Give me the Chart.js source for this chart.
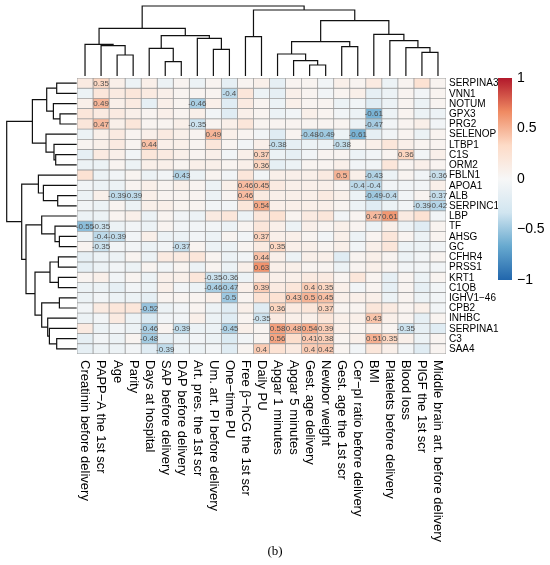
<!DOCTYPE html>
<html lang="en">
<head>
<meta charset="UTF-8">
<title>Correlation heatmap</title>
<script src="https://cdn.jsdelivr.net/npm/chart.js"></script>
<style>
  html, body { margin: 0; padding: 0; background: #fff; }
  #wrap { position: relative; width: 550px; height: 565px; }
  #wrap canvas { position: absolute; left: 0; top: 0; }
</style>
</head>
<body>
<div id="wrap">
  <canvas id="heat" width="550" height="565"></canvas>
  <canvas id="colTree" width="550" height="565"></canvas>
  <canvas id="rowTree" width="550" height="565"></canvas>
  <canvas id="scaleBar" width="550" height="565"></canvas>
</div>

<script>
  // column order as in the clustered heatmap
  const colLabels = [
    'Creatinin before delivery', 'PAPP\u2212A the 1st scr', 'Age', 'Parity',
    'Days at hospital', 'SAP before delivery', 'DAP before delivery',
    'Art. pres. the 1st scr', 'Um. art. PI before delivery', 'One\u2212time PU',
    'Free \u03b2\u2212hCG the 1st scr', 'Daily PU', 'Apgar 1 minutes', 'Apgar 5 minutes',
    'Gest. age delivery', 'Newbor weight', 'Gest. age the 1st scr',
    'Cer\u2212pl ratio before delivery', 'BMI', 'Platelets before delivery',
    'Blood loss', 'PlGF the 1st scr', 'Middle brain art. before delivery'
  ];

  const rowLabels = [
    'SERPINA3', 'VNN1', 'NOTUM', 'GPX3', 'PRG2', 'SELENOP', 'LTBP1', 'C1S', 'ORM2',
    'FBLN1', 'APOA1', 'ALB', 'SERPINC1', 'LBP', 'TF', 'AHSG', 'GC', 'CFHR4', 'PRSS1',
    'KRT1', 'C1QB', 'IGHV1\u221246', 'CPB2', 'INHBC', 'SERPINA1', 'C3', 'SAA4'
  ];

  // correlation values, one line per protein (columns as colLabels)
  const corrMatrix = [
    [0.15, 0.35, 0.1, -0.1, 0.1, -0.1, 0.05, -0.1, 0.05, -0.15, 0.05, 0.1, -0.15, 0.05, 0.05, -0.05, 0.1, 0.05, 0.15, -0.1, 0.05, 0.25, 0.05],
    [-0.1, 0.2, 0.15, 0.2, 0.15, 0.1, 0.05, 0.05, 0.05, -0.4, 0.2, -0.1, -0.15, 0.1, 0.05, -0.05, 0.05, 0.1, -0.15, -0.1, 0.05, -0.05, 0.05],
    [0.1, 0.49, 0.1, 0.15, -0.15, 0.1, 0.05, -0.46, 0.1, -0.2, 0.15, 0.05, -0.1, 0.1, 0.05, 0.05, -0.1, -0.05, -0.2, -0.1, 0.05, -0.1, 0.05],
    [0.2, 0.15, 0.15, 0.1, 0.05, 0.1, 0.05, 0.1, -0.05, -0.2, 0.1, 0.05, -0.1, -0.05, 0.1, 0.05, -0.05, -0.1, -0.61, -0.1, 0.05, -0.1, -0.1],
    [0.2, 0.47, 0.1, 0.2, 0.05, 0.05, 0.1, -0.35, 0.05, 0.1, 0.2, 0.05, 0.05, 0.05, 0.05, 0.05, 0.05, -0.1, -0.47, -0.05, 0.05, 0.1, -0.05],
    [-0.1, 0.1, 0.15, 0.05, 0.1, 0.15, 0.1, 0.05, 0.49, 0.1, 0.05, -0.05, -0.2, 0.05, -0.48, -0.49, -0.1, -0.61, -0.15, -0.05, 0.05, -0.1, 0.05],
    [0.05, 0.1, 0.15, 0.05, 0.44, 0.1, 0.1, 0.05, 0.2, 0.05, -0.05, 0.1, -0.38, -0.15, -0.1, -0.1, -0.38, 0.05, 0.1, 0.2, 0.1, 0.05, 0.05],
    [-0.15, 0.15, 0.1, -0.05, 0.2, 0.15, 0.1, 0.05, 0.1, -0.05, 0.1, 0.37, -0.1, -0.15, -0.05, 0.05, 0.05, -0.1, -0.05, 0.05, 0.36, -0.05, 0.1],
    [-0.1, -0.1, 0.05, -0.1, 0.1, 0.1, 0.05, 0.1, 0.1, 0.05, 0.1, 0.36, -0.15, -0.1, 0.05, 0.05, 0.1, -0.05, -0.05, 0.2, 0.05, 0.1, 0.05],
    [0.25, -0.1, -0.05, 0.05, -0.1, -0.05, -0.43, -0.1, 0.05, -0.05, 0.2, -0.05, 0.1, 0.1, 0.1, 0.15, 0.5, 0.1, -0.43, -0.1, 0.05, -0.05, -0.36],
    [-0.05, -0.1, -0.1, 0.05, 0.1, 0.05, 0.1, 0.05, -0.1, 0.1, 0.46, 0.45, 0.15, 0.1, 0.1, 0.1, 0.05, -0.4, -0.4, -0.05, -0.05, -0.05, 0.1],
    [-0.1, 0.1, -0.39, -0.39, 0.1, 0.05, 0.05, 0.05, -0.1, 0.05, 0.46, 0.15, 0.1, 0.1, 0.1, 0.15, 0.1, -0.1, -0.49, -0.4, -0.05, 0.05, -0.37],
    [-0.05, -0.1, 0.05, -0.1, 0.1, 0.1, 0.05, 0.05, -0.05, -0.05, 0.2, 0.54, 0.1, 0.1, 0.1, 0.1, 0.05, -0.1, -0.2, -0.1, -0.05, -0.39, -0.42],
    [-0.1, -0.1, 0.05, 0.1, -0.1, 0.05, -0.05, -0.1, 0.15, 0.2, -0.1, 0.2, 0.25, 0.05, 0.15, 0.2, -0.05, 0.05, 0.47, 0.61, 0.15, 0.25, -0.05],
    [-0.55, -0.35, -0.1, -0.05, -0.1, 0.05, -0.05, -0.05, -0.05, -0.1, 0.05, 0.2, 0.1, -0.1, 0.1, 0.05, 0.1, 0.05, -0.1, 0.1, -0.1, -0.2, 0.05],
    [-0.1, -0.4, -0.39, -0.05, 0.1, -0.1, -0.1, -0.05, -0.1, 0.05, -0.05, 0.37, 0.1, 0.1, 0.05, -0.05, 0.1, -0.1, 0.05, 0.2, 0.05, -0.1, 0.05],
    [0.05, -0.35, -0.05, -0.05, -0.1, -0.05, -0.37, 0.05, -0.1, -0.1, 0.05, 0.15, 0.35, 0.1, 0.1, 0.05, 0.1, -0.05, 0.1, 0.2, -0.1, -0.1, -0.05],
    [-0.15, -0.1, -0.1, 0.05, -0.1, 0.15, 0.15, 0.2, 0.05, -0.1, -0.05, 0.44, 0.1, -0.1, 0.1, 0.1, -0.2, 0.05, 0.1, 0.05, -0.1, -0.05, 0.05],
    [-0.15, -0.1, -0.05, -0.1, 0.05, -0.05, 0.05, -0.1, 0.05, -0.1, 0.1, 0.63, 0.1, 0.1, 0.05, 0.05, -0.1, 0.05, 0.1, 0.05, -0.05, -0.05, -0.05],
    [0.05, 0.1, -0.05, 0.05, -0.1, 0.1, 0.1, 0.2, -0.35, -0.36, -0.1, 0.15, 0.1, 0.1, 0.15, 0.15, 0.05, 0.2, 0.05, -0.15, 0.05, -0.1, 0.05],
    [-0.1, -0.1, -0.15, -0.05, -0.1, 0.1, -0.05, -0.1, -0.46, -0.47, 0.1, 0.39, 0.15, 0.2, 0.4, 0.35, 0.1, -0.05, 0.05, -0.15, 0.05, -0.15, -0.05],
    [-0.1, -0.05, -0.1, -0.1, -0.15, 0.05, 0.05, 0.05, 0.1, -0.5, 0.05, 0.25, 0.25, 0.43, 0.5, 0.45, 0.1, 0.1, 0.1, -0.1, 0.05, -0.1, -0.05],
    [-0.05, 0.15, 0.2, 0.2, -0.52, -0.1, -0.05, 0.05, -0.1, -0.2, 0.1, -0.2, 0.36, 0.15, 0.2, 0.37, 0.05, 0.05, 0.2, 0.15, 0.05, 0.1, -0.05],
    [-0.1, -0.05, 0.15, -0.1, -0.25, -0.05, -0.05, 0.1, -0.1, -0.2, 0.05, -0.35, 0.15, 0.1, 0.1, 0.2, 0.1, 0.1, 0.43, 0.1, 0.05, -0.15, 0.05],
    [0.15, -0.1, -0.05, -0.1, -0.46, 0.05, -0.39, -0.1, -0.1, -0.45, 0.1, 0.05, 0.58, 0.48, 0.54, 0.39, 0.1, 0.05, 0.1, 0.05, -0.35, -0.15, -0.2],
    [-0.15, -0.05, -0.1, 0.05, -0.48, -0.15, -0.1, -0.05, -0.1, -0.25, -0.05, 0.05, 0.56, 0.3, 0.41, 0.38, 0.05, 0.1, 0.51, 0.35, 0.1, -0.1, 0.05],
    [-0.15, -0.1, -0.1, -0.05, -0.2, -0.39, -0.1, -0.1, -0.05, -0.2, 0.05, 0.4, 0.25, 0.15, 0.4, 0.42, 0.05, -0.05, 0.2, 0.1, -0.05, -0.2, 0.05]
  ];

  // hclust-style merges: negative = leaf (display position + 1), positive = earlier merge
  const colMerges = [
    [-3, -4, 2.1], [-2, 1, 3.03], [-1, 2, 3.17], [-6, -7, 1.43], [-5, 4, 2.77],
    [-9, -10, 2.67], [-8, 6, 3.77], [5, 7, 4.03], [3, 8, 4.77], [-11, -12, 3.93],
    [-15, -16, 1.1], [-14, 11, 1.53], [-13, 12, 2.2], [-17, -18, 2.93], [13, 14, 3.43],
    [-22, -23, 2.37], [-21, 16, 2.83], [-20, 17, 3.53], [-19, 18, 4.17], [15, 19, 5.53],
    [10, 20, 6.6], [9, 21, 7.0]
  ];

  const rowMerges = [
    [-1, -2, 2.0], [-4, -5, 1.67], [-3, 2, 2.33], [1, 3, 3.0], [-8, -9, 2.1],
    [-7, 5, 2.27], [-6, 6, 3.07], [4, 7, 4.43], [-12, -13, 1.9], [-11, 9, 3.33],
    [-10, 10, 3.83], [-16, -17, 1.73], [-15, 12, 2.17], [-14, 13, 3.5], [-18, -19, 1.83],
    [-20, -21, 1.83], [15, 16, 2.67], [-22, -23, 1.73], [-26, -27, 2.0], [-25, 19, 2.73],
    [-24, 20, 2.9], [18, 21, 3.5], [17, 22, 4.17], [14, 23, 5.07], [11, 24, 5.5],
    [8, 25, 7.0]
  ];

  const legendTicks = [1, 0.5, 0, -0.5, -1];

  const palette = ['#2166AC', '#67A9CF', '#D1E5F0', '#F7F7F7', '#FDDBC7', '#EF8A62', '#B2182B'];
  const cellFont = '8px "Liberation Sans", Arial, sans-serif';
  const rowFont = '10px "Liberation Sans", Arial, sans-serif';
  const colFont = '13px "Liberation Sans", Arial, sans-serif';

  function hexRgb(h) {
    return [1, 3, 5].map(i => parseInt(h.substr(i, 2), 16));
  }

  function valueColor(v) {
    const t = Math.max(0, Math.min(1, (v + 1) / 2)) * (palette.length - 1);
    const i = Math.min(palette.length - 2, Math.floor(t));
    const f = t - i;
    const a = hexRgb(palette[i]), b = hexRgb(palette[i + 1]);
    const c = a.map((x, k) => Math.round(x + (b[k] - x) * f));
    return `rgb(${c[0]},${c[1]},${c[2]})`;
  }

  function fmt(v) {
    return String(Math.round(v * 100) / 100);
  }

  // cells: one floating bar dataset per column
  const heatDatasets = colLabels.map((name, c) => ({
    label: name,
    data: rowLabels.map(() => [c - 0.5, c + 0.5]),
    backgroundColor: rowLabels.map((r, i) => valueColor(corrMatrix[i][c])),
    borderColor: '#9c9c9c',
    borderWidth: 0.75,
    borderSkipped: false,
    grouped: false,
    barPercentage: 1,
    categoryPercentage: 1
  }));

  const heatText = {
    id: 'heatText',
    afterDatasetsDraw(chart) {
      const ctx = chart.ctx;
      const xs = chart.scales.x, ys = chart.scales.y;
      const area = chart.chartArea;
      ctx.save();
      ctx.font = cellFont;
      ctx.fillStyle = '#4d4d4d';
      ctx.textAlign = 'center';
      ctx.textBaseline = 'middle';
      chart.data.datasets.forEach((ds, c) => {
        chart.getDatasetMeta(c).data.forEach((bar, i) => {
          const v = corrMatrix[i][c];
          if (Math.abs(v) >= 0.35) {
            const p = bar.getCenterPoint();
            ctx.fillText(fmt(v), p.x, p.y + 0.5);
          }
        });
      });

      ctx.fillStyle = '#000';
      ctx.font = rowFont;
      ctx.textAlign = 'left';
      rowLabels.forEach((lab, i) => {
        ctx.fillText(lab, area.right + 3, ys.getPixelForValue(i) + 0.5);
      });

      ctx.font = colFont;
      colLabels.forEach((lab, c) => {
        ctx.save();
        ctx.translate(xs.getPixelForValue(c), area.bottom + 6);
        ctx.rotate(Math.PI / 2);
        ctx.fillText(lab, 0, 0);
        ctx.restore();
      });

      ctx.font = '13px "Liberation Serif", "Times New Roman", serif';
      ctx.textAlign = 'center';
      ctx.fillText('(b)', 275, 552);
      ctx.restore();
    }
  };

  new Chart(document.getElementById('heat'), {
    type: 'bar',
    data: { labels: rowLabels, datasets: heatDatasets },
    options: {
      responsive: false,
      animation: false,
      indexAxis: 'y',
      layout: { padding: { left: 77, top: 78, right: 104, bottom: 211 } },
      plugins: { legend: { display: false }, tooltip: { enabled: false } },
      scales: {
        x: { type: 'linear', min: -0.5, max: 22.5, display: false },
        y: { type: 'category', display: false }
      }
    },
    plugins: [heatText]
  });

  // U-shaped link per merge
  function treeLinks(merges, flip) {
    const pos = [], hgt = [];
    const node = ref => ref < 0 ? { p: -ref - 1, h: 0 } : { p: pos[ref - 1], h: hgt[ref - 1] };
    return merges.map(([a, b, h], k) => {
      const A = node(a), B = node(b);
      pos[k] = (A.p + B.p) / 2;
      hgt[k] = h;
      const pts = [[A.p, A.h], [A.p, h], [B.p, h], [B.p, B.h]];
      return {
        data: pts.map(([p, v]) => flip ? { x: v, y: p } : { x: p, y: v }),
        showLine: true,
        borderColor: '#111',
        borderWidth: 1.2,
        pointRadius: 0,
        tension: 0,
        clip: false
      };
    });
  }

  const treeBase = {
    responsive: false,
    animation: false,
    plugins: { legend: { display: false }, tooltip: { enabled: false } }
  };

  new Chart(document.getElementById('colTree'), {
    type: 'scatter',
    data: { datasets: treeLinks(colMerges, false) },
    options: Object.assign({}, treeBase, {
      layout: { padding: { left: 77, top: 6, right: 104, bottom: 489 } },
      scales: {
        x: { type: 'linear', min: -0.5, max: 22.5, display: false },
        y: { type: 'linear', min: 0, max: 7, display: false }
      }
    })
  });

  new Chart(document.getElementById('rowTree'), {
    type: 'scatter',
    data: { datasets: treeLinks(rowMerges, true) },
    options: Object.assign({}, treeBase, {
      layout: { padding: { left: 6.7, top: 78, right: 473.3, bottom: 211 } },
      scales: {
        x: { type: 'linear', min: 0, max: 7, reverse: true, display: false },
        y: { type: 'linear', min: -0.5, max: 26.5, reverse: true, display: false }
      }
    })
  });

  // colour key
  const keyDraw = {
    id: 'keyDraw',
    afterDraw(chart) {
      const ctx = chart.ctx;
      const ys = chart.scales.y;
      const a = chart.chartArea;
      const g = ctx.createLinearGradient(0, ys.getPixelForValue(1), 0, ys.getPixelForValue(-1));
      palette.slice().reverse().forEach((col, i) => g.addColorStop(i / (palette.length - 1), col));
      ctx.save();
      ctx.fillStyle = g;
      ctx.fillRect(a.left, ys.getPixelForValue(1), a.right - a.left, ys.getPixelForValue(-1) - ys.getPixelForValue(1));
      ctx.fillStyle = '#000';
      ctx.font = '14px "Liberation Sans", Arial, sans-serif';
      ctx.textAlign = 'left';
      ctx.textBaseline = 'middle';
      legendTicks.forEach(t => {
        ctx.fillText(String(t).replace('-', '\u2212'), a.right + 5, ys.getPixelForValue(t));
      });
      ctx.restore();
    }
  };

  new Chart(document.getElementById('scaleBar'), {
    type: 'scatter',
    data: { datasets: [] },
    options: Object.assign({}, treeBase, {
      layout: { padding: { left: 498, top: 78, right: 38, bottom: 285 } },
      scales: {
        x: { type: 'linear', min: 0, max: 1, display: false },
        y: { type: 'linear', min: -1, max: 1, display: false }
      }
    }),
    plugins: [keyDraw]
  });
</script>
</body>
</html>
